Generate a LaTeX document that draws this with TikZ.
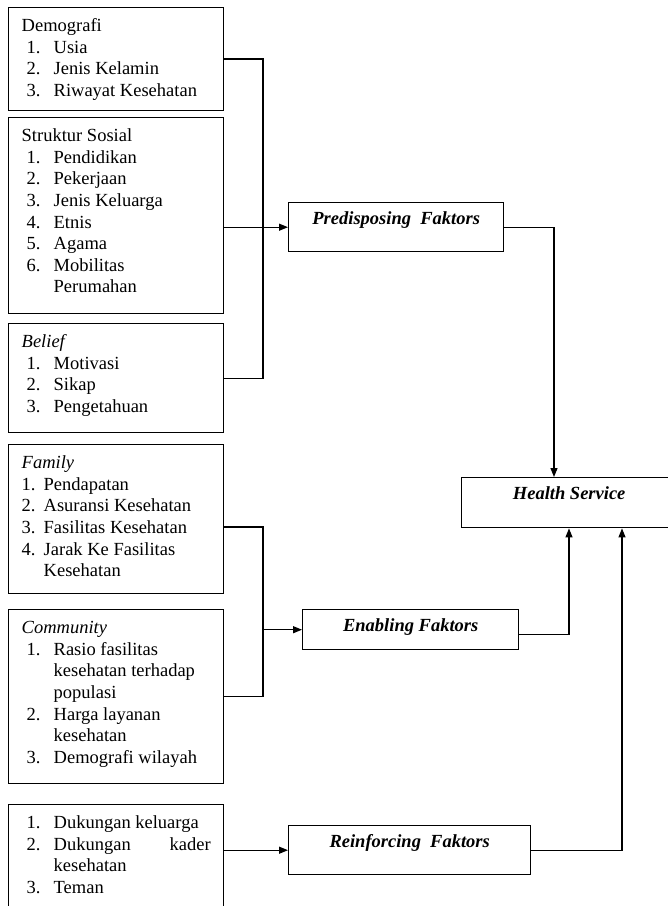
\documentclass[tikz,border=0pt]{standalone}
\usepackage{fontspec}
\setmainfont{Liberation Serif}
\usepackage{tikz}
\usetikzlibrary{arrows.meta}
\newcommand{\nmr}[2]{\hspace*{5pt}\makebox[27pt][l]{#1}#2}
\newcommand{\nmf}[2]{\makebox[22pt][l]{#1}#2}
\newcommand{\boxtxt}[2]{\parbox[c][#1][t]{189pt}{\raggedright\rule{0pt}{24pt}#2}}
\newcommand{\factxt}[3]{\parbox[c][#2][t]{#1}{\centering\rule{0pt}{22pt}\textbf{\textit{#3}}}}
\tikzset{
	listbox/.style={draw, line width=1.4pt, anchor=north west, inner xsep=13pt, inner ysep=0pt},
	factbox/.style={draw, line width=1.4pt, anchor=north west, inner sep=0pt},
	conn/.style={line width=1.2pt},
	arr/.style={conn, -{Triangle[length=9pt,width=7pt]}}
}

\begin{document}
\begin{tikzpicture}[x=1pt, y=-1pt, font=\fontsize{18.5}{21.6}\selectfont]
		\useasboundingbox (0,0) rectangle (668,906);
		% Define nodes
		\node[listbox] (demo) at (8,7) {\boxtxt{103pt}{Demografi\\
			\nmr{1.}{Usia}\\ \nmr{2.}{Jenis Kelamin}\\ \nmr{3.}{Riwayat Kesehatan}}};
		\node[listbox] (sosial) at (8,117) {\boxtxt{196pt}{Struktur Sosial\\
			\nmr{1.}{Pendidikan}\\ \nmr{2.}{Pekerjaan}\\ \nmr{3.}{Jenis Keluarga}\\
			\nmr{4.}{Etnis}\\ \nmr{5.}{Agama}\\ \nmr{6.}{Mobilitas}\\ \nmr{}{Perumahan}}};
		\node[listbox] (belief) at (8,323) {\boxtxt{109pt}{\textit{Belief}\\
			\nmr{1.}{Motivasi}\\ \nmr{2.}{Sikap}\\ \nmr{3.}{Pengetahuan}}};
		\node[listbox] (family) at (8,444) {\boxtxt{149pt}{\textit{Family}\\
			\nmf{1.}{Pendapatan}\\ \nmf{2.}{Asuransi Kesehatan}\\ \nmf{3.}{Fasilitas Kesehatan}\\
			\nmf{4.}{Jarak Ke Fasilitas}\\ \nmf{}{Kesehatan}}};
		\node[listbox] (comm) at (8,609) {\boxtxt{174pt}{\textit{Community}\\
			\nmr{1.}{Rasio fasilitas}\\ \nmr{}{kesehatan terhadap}\\ \nmr{}{populasi}\\
			\nmr{2.}{Harga layanan}\\ \nmr{}{kesehatan}\\ \nmr{3.}{Demografi wilayah}}};
		\node[listbox] (dukung) at (8,804) {\boxtxt{112pt}{\nmr{1.}{Dukungan keluarga}\\
			\nmr{2.}{Dukungan\hfill kader}\\ \nmr{}{kesehatan}\\ \nmr{3.}{Teman}}};

		\node[factbox] (pred) at (288,202) {\factxt{215pt}{49pt}{Predisposing~~Faktors}};
		\node[factbox] (hs) at (461,477) {\factxt{215pt}{50pt}{Health Service}};
		\node[factbox] (enab) at (302,609) {\factxt{216pt}{40pt}{Enabling Faktors}};
		\node[factbox] (reinf) at (288,825) {\factxt{242pt}{49pt}{Reinforcing~~Faktors}};

		\coordinate (bus1) at (263,59);
		\coordinate (bus2) at (263,527);
		\coordinate (hsin1) at (554,0);
		\coordinate (hsin2) at (569,0);
		\coordinate (hsin3) at (622,0);

		% Connect the nodes
		\draw[conn] (demo.east |- bus1) -- (bus1) |- (belief.east);
		\draw[arr] (sosial.east |- pred.west) -- (pred.west);
		\draw[arr] (pred.east) -| (hsin1 |- hs.north);
		\draw[conn] (family.east |- bus2) -- (bus2) |- (comm.east);
		\draw[arr] (bus2 |- enab.west) -- (enab.west);
		\draw[arr] ([yshift=-5pt]enab.east) -| (hsin2 |- hs.south);
		\draw[arr] (dukung.east |- reinf.west) -- (reinf.west);
		\draw[arr] (reinf.east) -| (hsin3 |- hs.south);
\end{tikzpicture}
\end{document}
